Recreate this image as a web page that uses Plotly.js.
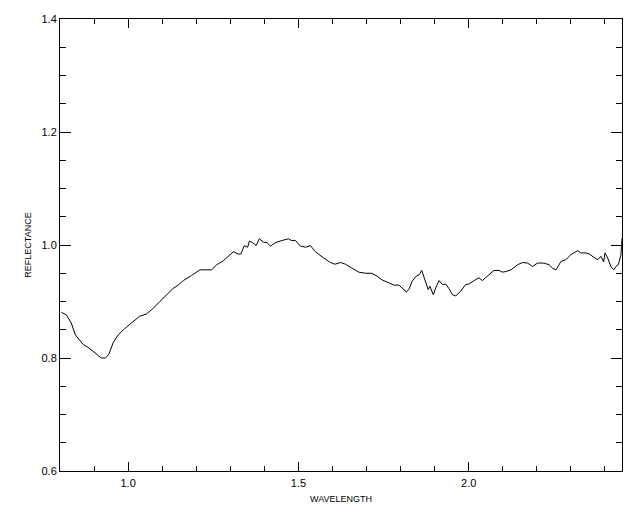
<!DOCTYPE html>
<html>
<head>
<meta charset="utf-8">
<script src="https://cdn.plot.ly/plotly-3.0.1.min.js"></script>
<style>html,body{margin:0;padding:0;background:#fff;}#chart{width:640px;height:512px;}</style>
</head>
<body>
<div id="chart"></div>
<script>
const wavelength = [0.804,0.819,0.833,0.845,0.868,0.882,0.897,0.912,0.921,0.933,0.943,0.956,0.971,0.990,1.015,1.034,1.054,1.074,1.093,1.113,1.132,1.147,1.162,1.186,1.211,1.245,1.260,1.279,1.294,1.309,1.324,1.331,1.341,1.351,1.356,1.366,1.376,1.385,1.398,1.408,1.418,1.432,1.452,1.471,1.479,1.491,1.506,1.521,1.535,1.550,1.574,1.594,1.607,1.624,1.638,1.658,1.677,1.697,1.715,1.731,1.746,1.766,1.780,1.795,1.805,1.817,1.824,1.834,1.846,1.854,1.862,1.874,1.881,1.886,1.896,1.903,1.913,1.923,1.932,1.942,1.952,1.962,1.976,1.991,2.001,2.016,2.030,2.040,2.055,2.074,2.089,2.099,2.109,2.124,2.143,2.158,2.173,2.187,2.202,2.221,2.236,2.246,2.256,2.271,2.285,2.300,2.320,2.329,2.344,2.354,2.368,2.379,2.388,2.396,2.400,2.408,2.418,2.426,2.432,2.439,2.447,2.450];
const reflectance = [0.881,0.876,0.862,0.841,0.824,0.819,0.812,0.805,0.800,0.800,0.806,0.827,0.841,0.852,0.864,0.874,0.878,0.888,0.900,0.912,0.923,0.929,0.937,0.946,0.956,0.956,0.965,0.972,0.980,0.988,0.984,0.984,0.999,0.996,1.007,1.004,0.999,1.011,1.005,1.004,0.998,1.004,1.008,1.011,1.008,1.008,0.998,0.996,0.999,0.988,0.977,0.969,0.966,0.969,0.966,0.959,0.952,0.950,0.950,0.945,0.938,0.933,0.929,0.929,0.923,0.917,0.921,0.936,0.945,0.947,0.955,0.933,0.921,0.927,0.912,0.924,0.937,0.930,0.931,0.923,0.912,0.910,0.918,0.930,0.931,0.937,0.942,0.937,0.945,0.955,0.955,0.952,0.953,0.956,0.965,0.969,0.968,0.962,0.968,0.968,0.965,0.959,0.956,0.971,0.974,0.983,0.990,0.986,0.986,0.984,0.978,0.974,0.980,0.970,0.986,0.977,0.961,0.956,0.962,0.965,0.983,1.012];
const xTickVals = [1.0, 1.5, 2.0];
const xTickText = ["1.0", "1.5", "2.0"];
const yTickVals = [0.6, 0.8, 1.0, 1.2, 1.4];
const yTickText = ["0.6", "0.8", "1.0", "1.2", "1.4"];

const font = {family: "Liberation Sans, Arial, sans-serif", size: 11, color: "#000"};
const titleFont = {family: "Liberation Sans, Arial, sans-serif", size: 9, color: "#000"};
const trace = {
  x: wavelength, y: reflectance, type: "scatter", mode: "lines",
  line: {color: "#000", width: 1}, hoverinfo: "skip"
};
const layout = {
  width: 640, height: 512,
  margin: {l: 60, r: 18, t: 19, b: 41},
  paper_bgcolor: "#fff", plot_bgcolor: "#fff",
  showlegend: false,
  font: font,
  xaxis: {
    range: [0.8, 2.45], showgrid: false, zeroline: false,
    showline: true, linecolor: "#000", linewidth: 1, mirror: "ticks",
    ticks: "inside", ticklen: 9, tickwidth: 1, tickcolor: "#000",
    tickmode: "array", tickvals: xTickVals, ticktext: xTickText,
    ticklabelstandoff: 2,
    minor: {dtick: 0.1, tick0: 0.8, ticklen: 5, tickwidth: 1, tickcolor: "#000", ticks: "inside", showgrid: false},
    tickfont: font,
    title: {text: "WAVELENGTH", font: titleFont, standoff: 7},
    automargin: false
  },
  yaxis: {
    range: [0.6, 1.4], showgrid: false, zeroline: false,
    showline: true, linecolor: "#000", linewidth: 1, mirror: "ticks",
    ticks: "inside", ticklen: 11, tickwidth: 1, tickcolor: "#000",
    tickmode: "array", tickvals: yTickVals, ticktext: yTickText,
    minor: {dtick: 0.05, tick0: 0.6, ticklen: 6, tickwidth: 1, tickcolor: "#000", ticks: "inside", showgrid: false},
    tickfont: font,
    title: {text: "REFLECTANCE", font: titleFont, standoff: 8},
    automargin: false
  }
};
Plotly.newPlot("chart", [trace], layout, {staticPlot: true, displayModeBar: false});
</script>
</body>
</html>
